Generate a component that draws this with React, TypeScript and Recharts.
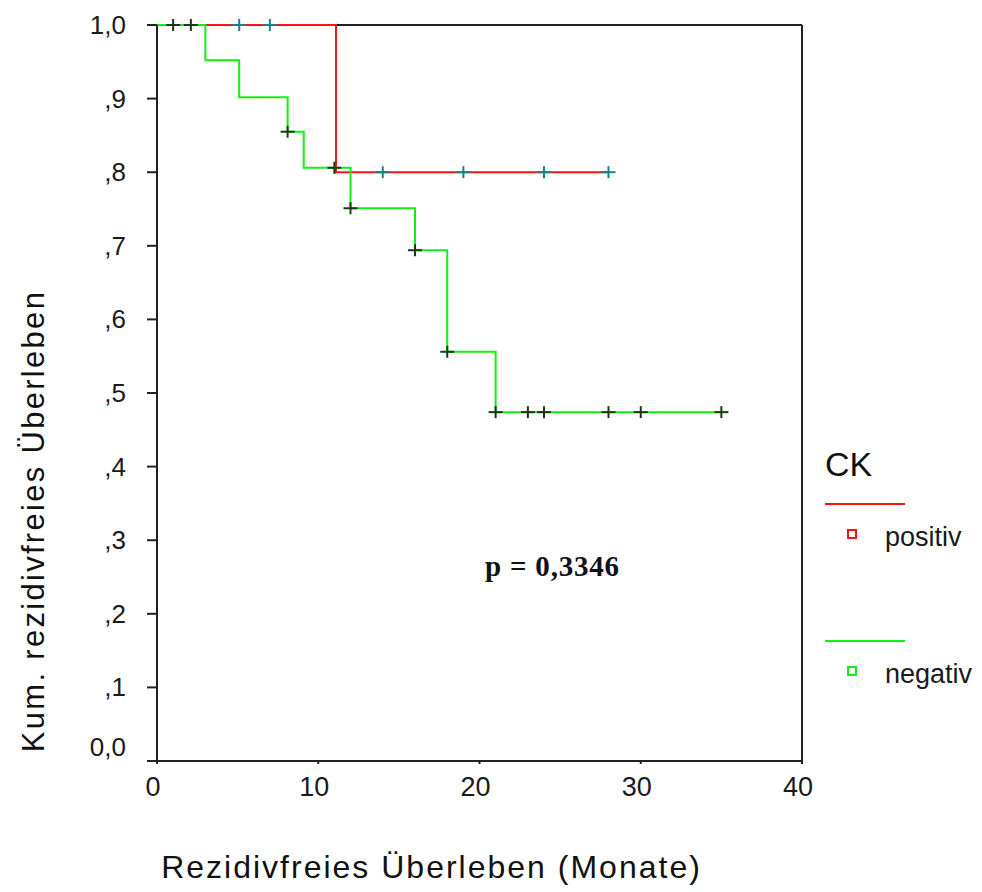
import { ComposedChart, Line, Scatter, XAxis, YAxis, Legend, Label, ReferenceLine } from "recharts"

const xTicks = [0, 10, 20, 30, 40]
const yTicks = [0, 0.1, 0.2, 0.3, 0.4, 0.5, 0.6, 0.7, 0.8, 0.9, 1]
const yTickLabels = ["0,0", ",1", ",2", ",3", ",4", ",5", ",6", ",7", ",8", ",9", "1,0"]

// CK positiv: step curve and censored cases
const posTimes = [0, 11.1, 28]
const posSurv = [1, 0.8, 0.8]
const posCensTimes = [5.1, 7.0, 14.0, 19.0, 24.0, 28.0]
const posCensSurv = [1, 1, 0.8, 0.8, 0.8, 0.8]

// CK negativ
const negTimes = [0, 3.0, 5.1, 8.1, 9.1, 12.0, 16.0, 18.0, 21.0, 35.0]
const negSurv = [1, 0.952, 0.902, 0.855, 0.806, 0.751, 0.694, 0.556, 0.474, 0.474]
const negCensTimes = [1.0, 2.1, 8.1, 11.0, 12.0, 16.0, 18.0, 21.0, 23.0, 24.0, 28.0, 30.0, 35.0]
const negCensSurv = [1, 1, 0.855, 0.806, 0.751, 0.694, 0.556, 0.474, 0.474, 0.474, 0.474, 0.474, 0.474]

const legendOrder = ["positiv", "negativ"]
const pValue = "p = 0,3346"

const zip = (ts: number[], ss: number[]) => ts.map((t, i) => ({ t, s: ss[i] }))

const posCurve = zip(posTimes, posSurv)
const posCens = zip(posCensTimes, posCensSurv)
const negCurve = zip(negTimes, negSurv)
const negCens = zip(negCensTimes, negCensSurv)

const RED = "#ff1010"
const GREEN = "#10f010"
const FRAME = "#222"
const FONT = "'Liberation Sans', Arial, sans-serif"

const makeCross = (color: string) => (props: any) => {
  const { cx, cy } = props
  return (
    <g stroke={color} strokeWidth={2}>
      <line x1={cx - 7} y1={cy} x2={cx + 7} y2={cy} />
      <line x1={cx} y1={cy - 6} x2={cx} y2={cy + 6} />
    </g>
  )
}

const YTick = (props: any) => {
  const { x, y, payload, index } = props
  // SPSS lifts the bottom label off the x axis
  const lift = payload.value === 0 ? -14 : 0
  return (
    <text x={x} y={y + lift} dy={9} textAnchor="end" fontSize={26} fontFamily={FONT} fill="#1a1a1a">
      {yTickLabels[index]}
    </text>
  )
}

const renderLegend = (props: any) => {
  const items = (props.payload || [])
    .filter((p: any) => p.type !== "none")
    .sort((a: any, b: any) => legendOrder.indexOf(a.value) - legendOrder.indexOf(b.value))
  return (
    <svg width={160} height={260} style={{ overflow: "visible" }}>
      <text x={5} y={36} fontSize={34} fontFamily={FONT} fill="#111">CK</text>
      {items.map((p: any, i: number) => (
        <g key={p.value}>
          <line x1={5} x2={85} y1={64 + i * 137} y2={64 + i * 137} stroke={p.color} strokeWidth={2} />
          <rect x={28} y={90 + i * 137} width={8} height={8} fill="none" stroke={p.color} strokeWidth={2} />
          <text x={65} y={106 + i * 137} fontSize={27} fontFamily={FONT} fill="#1a1a1a">{p.value}</text>
        </g>
      ))}
    </svg>
  )
}

export default function App() {
  return (
    <div style={{ position: "absolute", left: 0, top: 0, width: 982, height: 892, background: "#fff" }}>
      <ComposedChart width={982} height={892} margin={{ top: 25, right: 180, bottom: 0, left: 0 }}>
        <XAxis
          dataKey="t"
          type="number"
          domain={[0, 40]}
          ticks={xTicks}
          height={131}
          tickSize={3}
          tickMargin={13}
          stroke={FRAME}
          strokeWidth={2}
          tick={{ fontSize: 27, fontFamily: FONT, fill: "#1a1a1a", dx: -4 }}
        >
          <Label
            value="Rezidivfreies Überleben (Monate)"
            position="insideBottom"
            offset={14}
            dx={-48}
            style={{ fontSize: 32, fontFamily: FONT, fill: "#111", letterSpacing: 2 }}
          />
        </XAxis>
        <YAxis
          dataKey="s"
          type="number"
          domain={[0, 1]}
          ticks={yTicks}
          width={157}
          tickSize={10}
          tickMargin={21}
          stroke={FRAME}
          strokeWidth={2}
          tick={<YTick />}
        >
          <Label
            value="Kum. rezidivfreies Überleben"
            position="center"
            angle={-90}
            dx={-46}
            dy={128}
            style={{ fontSize: 31, fontFamily: FONT, fill: "#111", letterSpacing: 2.3 }}
          />
        </YAxis>
        <ReferenceLine y={1} stroke={FRAME} strokeWidth={2} />
        <ReferenceLine x={40} stroke={FRAME} strokeWidth={2} />
        <Legend
          content={renderLegend}
          align="center"
          verticalAlign="middle"
          wrapperStyle={{ position: "absolute", left: 820, top: 440, width: 160, height: 260 }}
        />
        <Line data={posCurve} dataKey="s" name="positiv" type="stepAfter" stroke={RED} strokeWidth={2} dot={false} isAnimationActive={false} />
        <Line data={negCurve} dataKey="s" name="negativ" type="stepAfter" stroke={GREEN} strokeWidth={2} dot={false} isAnimationActive={false} />
        <Scatter data={posCens} dataKey="s" legendType="none" shape={makeCross("#1a8088")} isAnimationActive={false} />
        <Scatter data={negCens} dataKey="s" legendType="none" shape={makeCross("#183818")} isAnimationActive={false} />
      </ComposedChart>
      <svg width={982} height={892} style={{ position: "absolute", left: 0, top: 0, pointerEvents: "none" }}>
        <text x={485} y={576} fontSize={29} letterSpacing={0.8} fontWeight="bold" fontFamily="'Liberation Serif', 'Times New Roman', serif" fill="#111">
          {pValue}
        </text>
      </svg>
    </div>
  )
}
